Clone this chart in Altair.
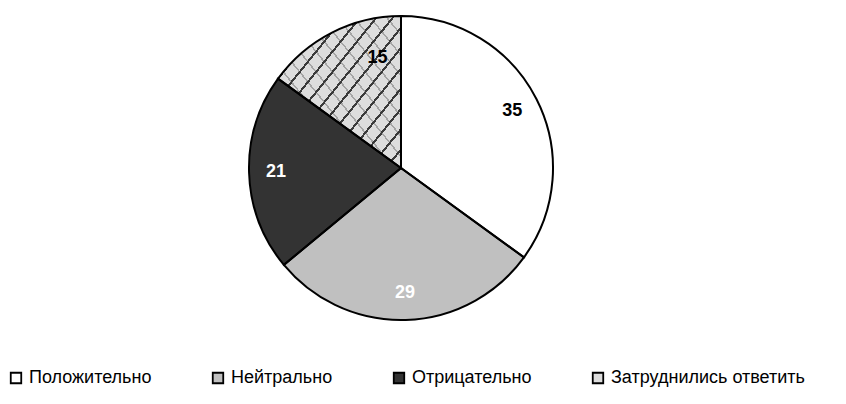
import altair as alt
import pandas as pd

cats = ["Положительно", "Нейтрально", "Отрицательно", "Затруднились ответить"]
values = [35, 29, 21, 15]
fills = ["#ffffff", "#c0c0c0", "#333333", "#dddddd"]

df = pd.DataFrame({"cat": cats, "value": values, "idx": list(range(len(cats)))})

FONT = "Liberation Sans Narrow, Arial Narrow, Liberation Sans, Arial, sans-serif"


def stripes(n, width, color, x1, y1, x2, y2):
    stops = []
    for i in range(n):
        a = i / n
        b = a + width / n
        stops += [
            {"offset": a, "color": "rgba(255,255,255,0)"},
            {"offset": a, "color": color},
            {"offset": b, "color": color},
            {"offset": b, "color": "rgba(255,255,255,0)"},
        ]
    stops.append({"offset": 1, "color": "rgba(255,255,255,0)"})
    return {"gradient": "linear", "x1": x1, "y1": y1, "x2": x2, "y2": y2, "stops": stops}


grad_main = stripes(15, 0.16, "#3a3a3a", 0, 0, 1, 1)
grad_cross = stripes(15, 0.12, "rgba(60,60,60,0.35)", 0, 1, 1, 0)

CX, CY, R = 393, 160, 152

base = alt.Chart(df).encode(
    theta=alt.Theta("value:Q", stack=True),
    order=alt.Order("idx:Q"),
    x=alt.value(CX),
    y=alt.value(CY),
)

pie = base.mark_arc(radius=R).encode(
    fill=alt.Fill(
        "cat:N",
        scale=alt.Scale(domain=cats, range=fills),
        legend=alt.Legend(
            title=None,
            orient="none",
            legendX=-1,
            legendY=361,
            direction="horizontal",
            columns=4,
            columnPadding=57,
            symbolType="square",
            symbolSize=110,
            symbolStrokeColor="black",
            symbolStrokeWidth=1.8,
            symbolOffset=0,
            labelFont=FONT,
            labelFontSize=18,
            labelColor="black",
            labelOffset=4,
            labelLimit=0,
            padding=0,
        ),
    )
)

hatch1 = base.mark_arc(radius=R).encode(
    fill=alt.condition(alt.datum.cat == cats[3], alt.value(grad_main), alt.value("transparent"))
)
hatch2 = base.mark_arc(radius=R).encode(
    fill=alt.condition(alt.datum.cat == cats[3], alt.value(grad_cross), alt.value("transparent"))
)

outline = base.mark_arc(radius=R, fillOpacity=0, stroke="black", strokeWidth=2)

labels = base.mark_text(
    radius=125,
    font=FONT,
    fontSize=18,
    fontWeight="bold",
    thetaOffset=alt.expr(f"datum.cat == '{cats[3]}' ? 0.26 : 0"),
    radiusOffset=alt.expr(f"datum.cat == '{cats[3]}' ? -13 : 0"),
).encode(
    text=alt.Text("value:Q"),
    color=alt.condition(
        alt.FieldOneOfPredicate(field="cat", oneOf=[cats[1], cats[2]]),
        alt.value("white"),
        alt.value("black"),
    ),
)

chart = (
    alt.layer(pie, hatch1, hatch2, outline, labels)
    .properties(width=830, height=388, autosize=alt.AutoSizeParams(type="none"), padding=0)
    .configure_view(stroke=None)
)

chart.save("out.html", embed_options={"renderer": "svg", "actions": False})
